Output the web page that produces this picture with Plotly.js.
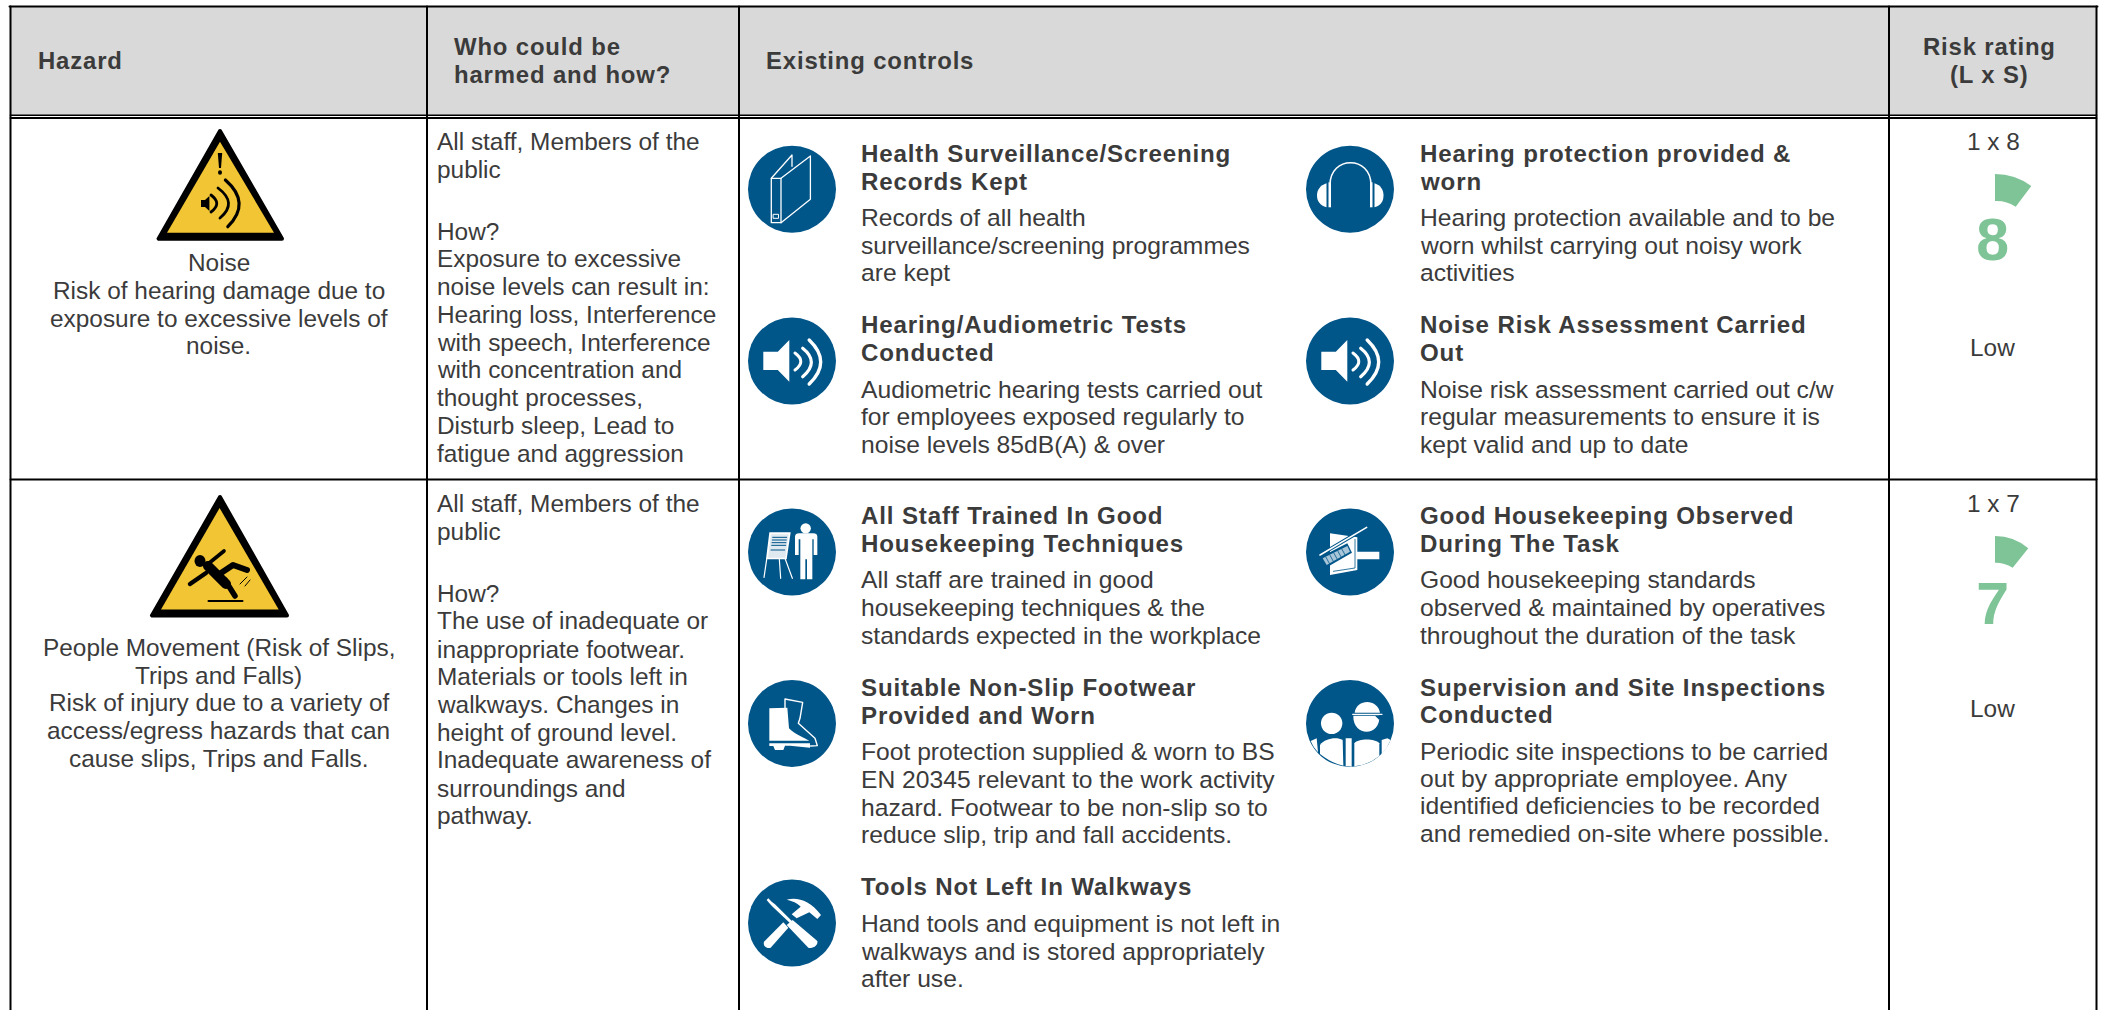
<!DOCTYPE html>
<html><head><meta charset="utf-8">
<script src="https://cdn.plot.ly/plotly-3.0.1.min.js"></script>
<style>
html,body{margin:0;padding:0;background:#fff;overflow:hidden}
#chart{width:2104px;height:1010px}
[style*="font-weight: 700"]{letter-spacing:.85px}
.shapelayer path{stroke-linejoin:round;stroke-linecap:round}
</style></head><body><div id="chart"></div>
<script>
// ---------- content ----------
const headerHazard = ["Hazard"];
const headerWho = ["Who could be", "harmed and how?"];
const headerControls = ["Existing controls"];
const headerRisk = ["Risk rating", "(L x S)"];

const hazard1 = ["Noise", "Risk of hearing damage due to", "exposure to excessive levels of", "noise."];
const hazard2 = ["People Movement (Risk of Slips,", "Trips and Falls)", "Risk of injury due to a variety of", "access/egress hazards that can", "cause slips, Trips and Falls."];

const who1 = ["All staff, Members of the", "public", "How?", "Exposure to excessive", "noise levels can result in:", "Hearing loss, Interference", "with speech, Interference", "with concentration and", "thought processes,", "Disturb sleep, Lead to", "fatigue and aggression"];
const who2 = ["All staff, Members of the", "public", "How?", "The use of inadequate or", "inappropriate footwear.", "Materials or tools left in", "walkways. Changes in", "height of ground level.", "Inadequate awareness of", "surroundings and", "pathway."];

const ctlTitles = [
  ["Health Surveillance/Screening", "Records Kept"],
  ["Hearing/Audiometric Tests", "Conducted"],
  ["Hearing protection provided &", "worn"],
  ["Noise Risk Assessment Carried", "Out"],
  ["All Staff Trained In Good", "Housekeeping Techniques"],
  ["Suitable Non-Slip Footwear", "Provided and Worn"],
  ["Tools Not Left In Walkways"],
  ["Good Housekeeping Observed", "During The Task"],
  ["Supervision and Site Inspections", "Conducted"]
];
const ctlBodies = [
  ["Records of all health", "surveillance/screening programmes", "are kept"],
  ["Audiometric hearing tests carried out", "for employees exposed regularly to", "noise levels 85dB(A) & over"],
  ["Hearing protection available and to be", "worn whilst carrying out noisy work", "activities"],
  ["Noise risk assessment carried out c/w", "regular measurements to ensure it is", "kept valid and up to date"],
  ["All staff are trained in good", "housekeeping techniques & the", "standards expected in the workplace"],
  ["Foot protection supplied & worn to BS", "EN 20345 relevant to the work activity", "hazard. Footwear to be non-slip so to", "reduce slip, trip and fall accidents."],
  ["Hand tools and equipment is not left in", "walkways and is stored appropriately", "after use."],
  ["Good housekeeping standards", "observed & maintained by operatives", "throughout the duration of the task"],
  ["Periodic site inspections to be carried", "out by appropriate employee. Any", "identified deficiencies to be recorded", "and remedied on-site where possible."]
];
const ratingFormula = ["1 x 8", "1 x 7"];
const ratingValue = [8, 7];
const ratingLabel = ["Low", "Low"];

// ---------- placement ----------
const TEXT = "#3b3b3b", BLUE = "#005589", GREEN = "#7fc497", YELLOW = "#f2c534", GREY = "#d9d9d9";
const REG = 24.4, BODY = 24.65, TITLE = 24.1, HEAD = 23.9, FONT = "Liberation Sans, Arial, sans-serif";
const ann = [], sh = [];

function addLines(lines, x, baselines, o) {
  o = o || {};
  const size = o.size || REG;
  lines.forEach((t, i) => ann.push({
    xref: "x", yref: "y", x: x, y: baselines[i] + size * 0.212,
    text: t.replace(/&/g, "&amp;"), showarrow: false, borderpad: 0, borderwidth: 0,
    xanchor: o.anchor || "left", yanchor: "bottom", align: o.anchor === "center" ? "center" : "left",
    font: { family: FONT, size: size, color: TEXT, weight: o.bold ? 700 : 400 }
  }));
}
function mp(str, ox, oy, k) {
  let n = 0;
  return str.replace(/[-\d.]+/g, v => { const r = (n++ % 2 === 0) ? ox + v * k : oy + v * k; return r.toFixed(2); });
}
function fill(d, c) { sh.push({ type: "path", xref: "x", yref: "y", path: d, fillcolor: c, line: { width: 0 } }); }
function stroke(d, c, w) { sh.push({ type: "path", xref: "x", yref: "y", path: d, line: { color: c, width: w } }); }
function hline(x0, x1, y, w, c) { sh.push({ type: "line", xref: "x", yref: "y", x0, x1, y0: y, y1: y, line: { color: c || "#000", width: w } }); }
function vline(x, y0, y1, w) { sh.push({ type: "line", xref: "x", yref: "y", x0: x, x1: x, y0, y1, line: { color: "#000", width: w } }); }
function circ(cx, cy, rx, ry, c) { sh.push({ type: "circle", xref: "x", yref: "y", x0: cx - rx, x1: cx + rx, y0: cy - ry, y1: cy + ry, fillcolor: c, line: { width: 0 } }); }

// grid
const X0 = 10.5, XA = 427, XB = 739, XC = 1889, X1 = 2096.5, YT = 6.5, YH1 = 115.3, YH2 = 118, YR = 479.5, YB = 1010;
sh.push({ type: "rect", xref: "x", yref: "y", x0: X0, x1: X1, y0: YT, y1: YH1, fillcolor: GREY, line: { width: 0 } });
hline(X0 - 1, X1 + 1, YT, 2); hline(X0, X1, YH1, 1.6); hline(X0, X1, YH2, 1.8); hline(X0, X1, YR, 2);
[X0, XA, XB, XC, X1].forEach(x => vline(x, YT, YB, 2));

// headers
addLines(headerHazard, 38, [69], { bold: 1, size: HEAD });
addLines(headerWho, 454, [55, 83], { bold: 1, size: HEAD });
addLines(headerControls, 766, [69], { bold: 1, size: HEAD });
addLines(headerRisk, 1989.5, [55, 83], { bold: 1, size: HEAD, anchor: "center" });

// hazard + who
addLines(hazard1, 218.5, [271, 299, 326.5, 354], { anchor: "center" });
addLines(hazard2, 218.5, [656, 683.5, 711, 738.7, 766.8], { anchor: "center" });
addLines(who1, 436.5, [150, 177.5, 239.5, 267, 295, 323, 350.5, 378, 406, 434, 461.5]);
addLines(who2, 436.5, [512, 540, 601.5, 629, 657.5, 685, 713, 741, 768, 796.5, 824]);

// controls: title x, circle centre, title baselines, body baselines
const ctlX = [861, 861, 1419.6, 1419.6, 861, 861, 861, 1419.6, 1419.6];
const ctlCx = [792, 792, 1350, 1350, 792, 792, 792, 1350, 1350];
const ctlCy = [189.3, 361, 189.3, 361, 552, 723.4, 923, 552, 723.4];
const ctlTB = [[162, 189.5], [333, 360.5], [162, 189.5], [333, 360.5], [524, 552], [695.7, 723.4], [895], [524, 551.5], [695.7, 723]];
const ctlBB = [[226, 254, 281], [397.5, 425, 452.7], [226, 254, 281], [397.5, 425, 452.7], [588, 616, 644], [760, 787.6, 815.4, 843], [932, 959.4, 987], [587.5, 615.5, 643.5], [759.5, 787, 814, 842]];
ctlTitles.forEach((t, i) => {
  circ(ctlCx[i], ctlCy[i], 44, 43.5, BLUE);
  addLines(t, ctlX[i], ctlTB[i], { bold: 1, size: TITLE });
  addLines(ctlBodies[i], ctlX[i], ctlBB[i], { size: BODY });
});

// --- icons (drawn on top of the blue discs) ---
const W = "#ffffff";
function rel(d, cx, cy) { return mp(d, cx, cy, 1); }
// binder
stroke(rel("M-20.7 -11 L-11 -11 L-11 33.4 L-20.7 33.4 Z", 792, 189.3), W, 1.3);
stroke(rel("M-11 -11 L18.4 -33.3 L18.4 10 L-11 33.4", 792, 189.3), W, 1.3);
stroke(rel("M-20.7 -11 L0 -34.3 L0 -23", 792, 189.3), W, 1.3);
stroke(rel("M-18.5 25 L-13.5 25 L-13.5 29 L-18.5 29 Z", 792, 189.3), W, 1);
// speakers
[[792, 361], [1350, 361]].forEach(c => {
  fill(rel("M-28.7 -9.3 L-14.2 -9.3 L-2.7 -21 L-2.7 20.7 L-14.2 9 L-28.7 9 Z", c[0], c[1]), W);
  stroke(rel("M3 -8 Q14.6 0.5 3 9", c[0], c[1]), W, 3);
  stroke(rel("M10.7 -12.7 Q28 1 10.7 15.7", c[0], c[1]), W, 3.2);
  stroke(rel("M17.2 -21 Q40.2 1 17.2 23", c[0], c[1]), W, 3.4);
});
// headphones
[[1350, 189.3]].forEach(c => {
  stroke(rel("M-20 -4.3 C-20 -34 21 -34 21 -4.3", c[0], c[1]), W, 1.6);
  fill(rel("M-23.5 -6 C-30 -4 -33 1 -33 6 C-33 12 -30 16 -23.5 18 Z", c[0], c[1]), W);
  fill(rel("M-21.5 -7 L-19 -7 L-19 18 L-21.5 18 Z", c[0], c[1]), W);
  fill(rel("M24.5 -6 C31 -4 33.5 1 33.5 6 C33.5 12 31 16 24.5 18 Z", c[0], c[1]), W);
  fill(rel("M20 -7 L22.5 -7 L22.5 18 L20 18 Z", c[0], c[1]), W);
});
const k3 = 1 / 3;
// trainer + flip chart (crop origin 740,500)
circ(740 + 197 * k3, 500 + 85 * k3, 5.2, 5.2, W);
fill(mp("M165 110 Q165 100 178 100 L219 100 Q232 100 232 110 L232 165 L221 165 L221 118 L217 118 L217 238 L201 238 L201 178 L196 178 L196 238 L181 238 L181 118 L176 118 L176 165 L165 165 Z", 740, 500, k3), W);
fill(mp("M88 97 L152 97 L140 178 L78 178 Z", 740, 500, k3), W);
fill(mp("M93 103 L146 103 L136 173 L84 173 Z", 740, 500, k3), "#dfe9f0");
stroke(mp("M98 112 L140 112 M97 120 L139 120 M96 128 L138 128 M95 136 L137 136 M93 150 L134 150", 740, 500, k3), BLUE, 1);
stroke(mp("M80 178 L72 232 M136 178 L157 235 M118 178 L122 235", 740, 500, k3), W, 1.2);
// boot (crop origin 740,675)
fill(mp("M88 100 L142 98 L147 160 C165 178 195 190 208 197 L88 197 Z", 740, 675, k3), W);
fill(mp("M88 205 L210 205 L210 218 L150 212 L135 212 L130 225 L105 225 L100 213 L88 213 Z", 740, 675, k3), W);
stroke(mp("M135 98 L135 72 L188 82 L180 130 L175 145 L225 190 L232 212 L212 213", 740, 675, k3), W, 1.4);
// tools (crop origin 740,875)
fill(mp("M140 150 L158 135 L232 198 C235 210 220 222 205 218 Z", 740, 875, k3), W);
fill(mp("M72 200 L130 142 L145 158 L92 218 C80 222 68 212 72 200 Z", 740, 875, k3), W);
fill(mp("M140 74 C170 65 210 75 243 120 L232 132 L208 112 L170 130 L155 118 L182 95 C170 82 155 78 140 74 Z", 740, 875, k3), W);
fill(mp("M85 70 L95 80 L105 88 L158 140 L152 146 L98 95 L88 85 L80 75 Z", 740, 875, k3), W);
// page + broom (crop origin 1300,500)
fill(mp("M90 100 L172 112 L172 155 L238 155 L238 178 L172 178 L172 210 L90 225 Z", 1300, 500, k3), W);
stroke(mp("M100 214 L165 204 L165 118", 1300, 500, k3), BLUE, 0.8);
fill(mp("M60 172 L142 130 L156 158 L78 203 Z", 1300, 500, k3), BLUE);
stroke(mp("M60 165 L200 82", 1300, 500, k3), BLUE, 3.6);
stroke(mp("M60 165 L200 82", 1300, 500, k3), W, 1.6);
fill(mp("M68 175 L142 138 L150 155 L80 195 Z", 1300, 500, k3), "#a9c6d9");
stroke(mp("M78 172 L88 190 M90 166 L100 184 M102 160 L112 178 M114 154 L124 172 M126 148 L136 166", 1300, 500, k3), BLUE, 0.8);
// supervision people (crop origin 1300,675)
circ(1300 + 95 * k3, 675 + 145 * k3, 10.7, 10.7, W);
fill(mp("M160 122 L238 122 C242 186 158 186 160 122 Z", 1300, 675, k3), W);
fill(mp("M164 113 C168 72 232 68 240 113 Z", 1300, 675, k3), W);
stroke(mp("M158 118 L246 118", 1300, 675, k3), W, 1.3);
fill(mp("M225 122 L243 122 L238 135 Z", 1300, 675, k3), BLUE);
fill(mp("M32 198 L50 190 L54 232 Q40 218 32 198 Z", 1300, 675, k3), W);
fill(mp("M60 210 C75 190 110 185 128 195 L130 272 Q95 265 60 237 Z", 1300, 675, k3), W);
fill(mp("M137 190 L155 190 L155 275 L137 273 Z", 1300, 675, k3), W);
fill(mp("M163 205 C175 190 225 190 238 205 L238 243 Q205 270 163 274 Z", 1300, 675, k3), W);
fill(mp("M245 195 L262 190 L272 195 Q262 220 245 238 Z", 1300, 675, k3), W);

// warning triangles
fill("M220 131 L158.6 238.7 L282 238.7 Z", "#000"); stroke("M220 131 L158.6 238.7 L282 238.7 Z", "#000", 4);
fill("M220 141.7 L167 232.7 L274 232.7 Z", YELLOW);
fill("M217.8 153 L222.2 153 L221 168 L219 168 Z", "#000"); circ(220, 172.5, 2, 2.2, "#000");
fill("M201 200 L205 200 L209.4 196 L209.4 211 L205 207 L201 207 Z", "#000");
stroke("M211 195 Q222.5 203.5 211 212", "#000", 2.8);
stroke("M218 188 Q238 203 220 218", "#000", 2.8);
stroke("M225.4 180 Q251.6 203 227.8 226.7", "#000", 3.2);

fill("M220 497 L152 615.4 L287 615.4 Z", "#000"); stroke("M220 497 L152 615.4 L287 615.4 Z", "#000", 4);
fill("M219.6 508 L161 609.5 L278.7 609.5 Z", YELLOW);
circ(200, 561, 5.5, 6, "#000");
stroke("M208 566 L226 584", "#000", 10);
stroke("M208 564 L224 551", "#000", 3.6);
stroke("M206 573 L190 584", "#000", 4.5);
stroke("M218 575 L233 565 L247 570", "#000", 6);
stroke("M225 580 L235 596", "#000", 5.5);
stroke("M208.5 601 L242.5 601", "#000", 2);
stroke("M240 584 L247 577 M245 586 L250 580", "#000", 1);

// rating column
addLines([ratingFormula[0]], 1993, [150], { anchor: "center" });
addLines([ratingFormula[1]], 1993, [511.7], { anchor: "center" });
addLines([ratingLabel[0]], 1992.7, [356], { anchor: "center" });
addLines([ratingLabel[1]], 1992.7, [717], { anchor: "center" });
fill("M1995 174 Q2015.1 174 2031.3 186 L2015.7 206.7 Q2006.4 200.5 1995 201 Z", GREEN);
fill("M1995 536 Q2013.9 536 2028.3 548.3 L2012.7 567.7 Q2004.1 562.5 1995 562.7 Z", GREEN);

const digitX = [1993, 1993], digitY = [245, 609.5];

Plotly.newPlot("chart", [{
  type: "scatter", mode: "text", x: digitX, y: digitY, text: ratingValue.map(String),
  textposition: "middle center", textfont: { family: FONT, size: 59, color: GREEN, weight: 700 },
  hoverinfo: "skip", showlegend: false, cliponaxis: false
}], {
  width: 2104, height: 1010, margin: { l: 0, r: 0, t: 0, b: 0, pad: 0 },
  paper_bgcolor: "#fff", plot_bgcolor: "#fff", showlegend: false,
  xaxis: { range: [0, 2104], visible: false, fixedrange: true },
  yaxis: { range: [1010, 0], visible: false, fixedrange: true },
  shapes: sh, annotations: ann
}, { staticPlot: true, displayModeBar: false });
</script></body></html>
